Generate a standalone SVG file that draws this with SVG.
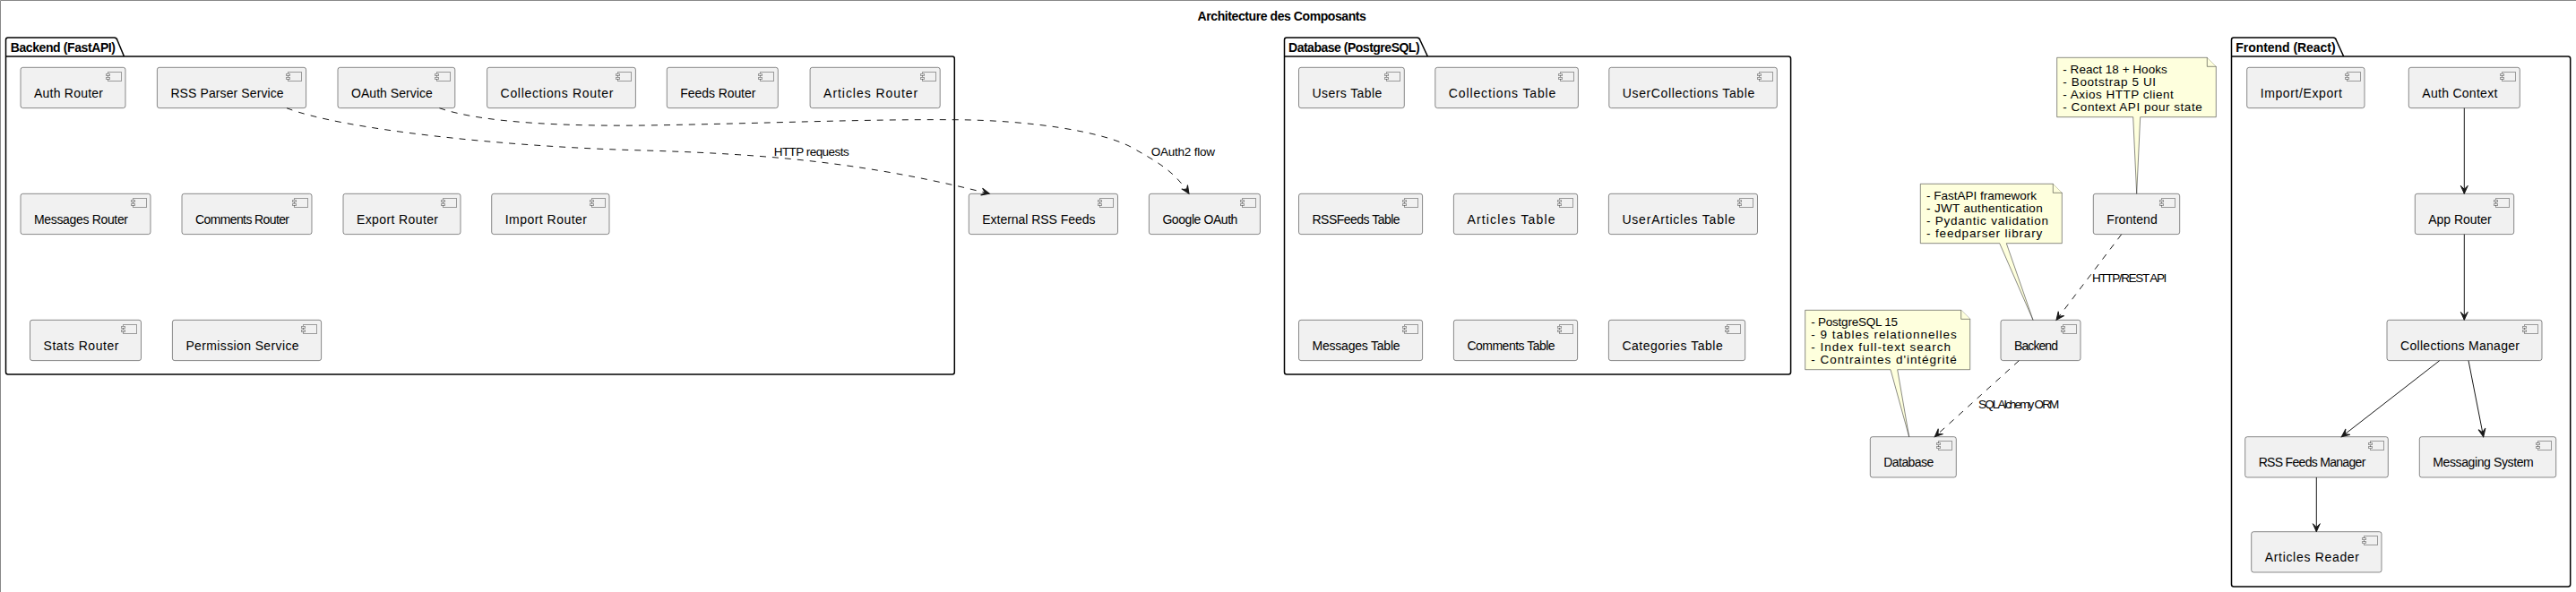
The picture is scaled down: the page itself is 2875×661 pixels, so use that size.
<svg xmlns="http://www.w3.org/2000/svg" width="2875" height="661" viewBox="0 0 2875 661">
<style>
text{font-family:"Liberation Sans",Arial,sans-serif;fill:#000}
.t{font-size:14px}
.b{font-size:14px;font-weight:bold}
.l{font-size:13.5px}
.c{fill:#F1F1F1;stroke:#181818;stroke-width:.5}
.i{fill:#F1F1F1;stroke:#181818;stroke-width:.5;stroke-opacity:.8;shape-rendering:crispEdges}
.p{fill:none;stroke:#000;stroke-width:1.5}
.n{fill:#FEFFDD;stroke:#181818;stroke-width:.5}
.s{fill:none;stroke:#181818;stroke-width:1;marker-end:url(#arr)}
.d{stroke-dasharray:7,7}
</style>
<defs>
<marker id="arr" markerUnits="userSpaceOnUse" viewBox="0 -5 10 10" refX="9" refY="0" markerWidth="10" markerHeight="10" orient="auto" overflow="visible"><path d="M0,-4 L9,0 L0,4 L4,0 Z" fill="#181818" stroke="#181818" stroke-width="1"/></marker>
<g id="ico"><rect class="i" x="0" y="0" width="15" height="10"/><rect class="i" x="-2" y="2" width="4" height="2"/><rect class="i" x="-2" y="6" width="4" height="2"/></g>
</defs>
<rect width="2875" height="661" fill="#fff"/>
<path d="M.5,661 V.5 H2875" fill="none" stroke="#888" stroke-width="1"/>
<text class="b" x="1336.6" y="23.3" textLength="188.3">Architecture des Composants</text>

<g id="pkg-backend"><path class="p" d="M9,42 H127.5 A3.75,3.75 0 0 1 131,45 L138.5,63 H1062.8 A2.5,2.5 0 0 1 1065.3,65.5 V415.5 A2.5,2.5 0 0 1 1062.8,418 H9 A2.5,2.5 0 0 1 6.5,415.5 V44.5 A2.5,2.5 0 0 1 9,42 Z M6.5,63 H138.5"/><text class="b" x="11.7" y="58" textLength="117.3">Backend (FastAPI)</text></g>
<g id="pkg-database"><path class="p" d="M1436,42 H1581.5 A3.75,3.75 0 0 1 1585,45 L1593.4,63 H1996.1 A2.5,2.5 0 0 1 1998.6,65.5 V415.5 A2.5,2.5 0 0 1 1996.1,418 H1436 A2.5,2.5 0 0 1 1433.5,415.5 V44.5 A2.5,2.5 0 0 1 1436,42 Z M1433.5,63 H1593.4"/><text class="b" x="1438" y="58" textLength="146.6">Database (PostgreSQL)</text></g>
<g id="pkg-frontend"><path class="p" d="M2493,42 H2604 A3.75,3.75 0 0 1 2607.5,45 L2615.7,63 H2866.2 A2.5,2.5 0 0 1 2868.7,65.5 V652.5 A2.5,2.5 0 0 1 2866.2,655 H2493 A2.5,2.5 0 0 1 2490.5,652.5 V44.5 A2.5,2.5 0 0 1 2493,42 Z M2490.5,63 H2615.7"/><text class="b" x="2495.3" y="58" textLength="111.3">Frontend (React)</text></g>

<g id="auth-router"><rect class="c" x="23" y="75.3" width="117" height="45.3" rx="2.5"/><use href="#ico" x="120" y="80.3"/><text class="t" x="38" y="109" textLength="77">Auth Router</text></g>
<g id="rss-parser-service"><rect class="c" x="175.4" y="75.3" width="166.2" height="45.3" rx="2.5"/><use href="#ico" x="321.6" y="80.3"/><text class="t" x="190.4" y="109" textLength="126.2">RSS Parser Service</text></g>
<g id="oauth-service"><rect class="c" x="377" y="75.3" width="130.8" height="45.3" rx="2.5"/><use href="#ico" x="487.8" y="80.3"/><text class="t" x="392" y="109" textLength="90.8">OAuth Service</text></g>
<g id="collections-router"><rect class="c" x="543.6" y="75.3" width="165.8" height="45.3" rx="2.5"/><use href="#ico" x="689.4" y="80.3"/><text class="t" x="558.6" y="109" textLength="125.8">Collections Router</text></g>
<g id="feeds-router"><rect class="c" x="744.3" y="75.3" width="124" height="45.3" rx="2.5"/><use href="#ico" x="848.3" y="80.3"/><text class="t" x="759.3" y="109" textLength="84">Feeds Router</text></g>
<g id="articles-router"><rect class="c" x="904.1" y="75.3" width="145.1" height="45.3" rx="2.5"/><use href="#ico" x="1029.2" y="80.3"/><text class="t" x="919.1" y="109" textLength="105.1">Articles Router</text></g>
<g id="messages-router"><rect class="c" x="23" y="216.3" width="145" height="45.3" rx="2.5"/><use href="#ico" x="148" y="221.3"/><text class="t" x="38" y="250" textLength="105">Messages Router</text></g>
<g id="comments-router"><rect class="c" x="203" y="216.3" width="145" height="45.3" rx="2.5"/><use href="#ico" x="328" y="221.3"/><text class="t" x="218" y="250" textLength="105">Comments Router</text></g>
<g id="export-router"><rect class="c" x="383" y="216.3" width="131" height="45.3" rx="2.5"/><use href="#ico" x="494" y="221.3"/><text class="t" x="398" y="250" textLength="91">Export Router</text></g>
<g id="import-router"><rect class="c" x="548.7" y="216.3" width="131.3" height="45.3" rx="2.5"/><use href="#ico" x="660" y="221.3"/><text class="t" x="563.7" y="250" textLength="91.3">Import Router</text></g>
<g id="stats-router"><rect class="c" x="33.5" y="357.3" width="124" height="45.3" rx="2.5"/><use href="#ico" x="137.5" y="362.3"/><text class="t" x="48.5" y="391" textLength="84">Stats Router</text></g>
<g id="permission-service"><rect class="c" x="192.4" y="357.3" width="166.2" height="45.3" rx="2.5"/><use href="#ico" x="338.6" y="362.3"/><text class="t" x="207.4" y="391" textLength="126.2">Permission Service</text></g>

<g id="external-rss-feeds"><rect class="c" x="1081.3" y="216.3" width="166.2" height="45.3" rx="2.5"/><use href="#ico" x="1227.5" y="221.3"/><text class="t" x="1096.3" y="250" textLength="126.2">External RSS Feeds</text></g>
<g id="google-oauth"><rect class="c" x="1282.4" y="216.3" width="124" height="45.3" rx="2.5"/><use href="#ico" x="1386.4" y="221.3"/><text class="t" x="1297.4" y="250" textLength="84">Google OAuth</text></g>

<g id="users-table"><rect class="c" x="1449.5" y="75.3" width="117.8" height="45.3" rx="2.5"/><use href="#ico" x="1547.3" y="80.3"/><text class="t" x="1464.5" y="109" textLength="77.8">Users Table</text></g>
<g id="collections-table"><rect class="c" x="1601.8" y="75.3" width="159.6" height="45.3" rx="2.5"/><use href="#ico" x="1741.4" y="80.3"/><text class="t" x="1616.8" y="109" textLength="119.6">Collections Table</text></g>
<g id="usercollections-table"><rect class="c" x="1795.8" y="75.3" width="187.5" height="45.3" rx="2.5"/><use href="#ico" x="1963.3" y="80.3"/><text class="t" x="1810.8" y="109" textLength="147.5">UserCollections Table</text></g>
<g id="rssfeeds-table"><rect class="c" x="1449.5" y="216.3" width="138.1" height="45.3" rx="2.5"/><use href="#ico" x="1567.6" y="221.3"/><text class="t" x="1464.5" y="250" textLength="98.1">RSSFeeds Table</text></g>
<g id="articles-table"><rect class="c" x="1622.4" y="216.3" width="138.2" height="45.3" rx="2.5"/><use href="#ico" x="1740.6" y="221.3"/><text class="t" x="1637.4" y="250" textLength="98.2">Articles Table</text></g>
<g id="userarticles-table"><rect class="c" x="1795.4" y="216.3" width="166.1" height="45.3" rx="2.5"/><use href="#ico" x="1941.5" y="221.3"/><text class="t" x="1810.4" y="250" textLength="126.1">UserArticles Table</text></g>
<g id="messages-table"><rect class="c" x="1449.5" y="357.3" width="138.1" height="45.3" rx="2.5"/><use href="#ico" x="1567.6" y="362.3"/><text class="t" x="1464.5" y="391" textLength="98.1">Messages Table</text></g>
<g id="comments-table"><rect class="c" x="1622.4" y="357.3" width="138.2" height="45.3" rx="2.5"/><use href="#ico" x="1740.6" y="362.3"/><text class="t" x="1637.4" y="391" textLength="98.2">Comments Table</text></g>
<g id="categories-table"><rect class="c" x="1795.4" y="357.3" width="152.3" height="45.3" rx="2.5"/><use href="#ico" x="1927.7" y="362.3"/><text class="t" x="1810.4" y="391" textLength="112.3">Categories Table</text></g>

<g id="import-export"><rect class="c" x="2507.7" y="75.3" width="131.3" height="45.3" rx="2.5"/><use href="#ico" x="2619" y="80.3"/><text class="t" x="2522.7" y="109" textLength="91.3">Import/Export</text></g>
<g id="auth-context"><rect class="c" x="2688.3" y="75.3" width="124" height="45.3" rx="2.5"/><use href="#ico" x="2792.3" y="80.3"/><text class="t" x="2703.3" y="109" textLength="84">Auth Context</text></g>
<g id="app-router"><rect class="c" x="2695.3" y="216.3" width="110.4" height="45.3" rx="2.5"/><use href="#ico" x="2785.7" y="221.3"/><text class="t" x="2710.3" y="250" textLength="70.4">App Router</text></g>
<g id="collections-manager"><rect class="c" x="2664" y="357.3" width="173" height="45.3" rx="2.5"/><use href="#ico" x="2817" y="362.3"/><text class="t" x="2679" y="391" textLength="133">Collections Manager</text></g>
<g id="rss-feeds-manager"><rect class="c" x="2505.7" y="487.7" width="159.6" height="45.3" rx="2.5"/><use href="#ico" x="2645.3" y="492.7"/><text class="t" x="2520.7" y="521.4" textLength="119.6">RSS Feeds Manager</text></g>
<g id="messaging-system"><rect class="c" x="2700.3" y="487.7" width="152.4" height="45.3" rx="2.5"/><use href="#ico" x="2832.7" y="492.7"/><text class="t" x="2715.3" y="521.4" textLength="112.4">Messaging System</text></g>
<g id="articles-reader"><rect class="c" x="2512.7" y="593.7" width="145.3" height="45.3" rx="2.5"/><use href="#ico" x="2638" y="598.7"/><text class="t" x="2527.7" y="627.4" textLength="105.3">Articles Reader</text></g>

<g id="frontend"><rect class="c" x="2336.3" y="216.3" width="96.4" height="45.3" rx="2.5"/><use href="#ico" x="2412.7" y="221.3"/><text class="t" x="2351.3" y="250" textLength="56.4">Frontend</text></g>
<g id="backend"><rect class="c" x="2233" y="357.3" width="89" height="45.3" rx="2.5"/><use href="#ico" x="2302" y="362.3"/><text class="t" x="2248" y="391" textLength="49">Backend</text></g>
<g id="database"><rect class="c" x="2087.3" y="487.7" width="96" height="45.3" rx="2.5"/><use href="#ico" x="2163.3" y="492.7"/><text class="t" x="2102.3" y="521.4" textLength="56">Database</text></g>

<g id="note-frontend"><path class="n" d="M2295.7,64.3 H2463.3 L2473.3,74.3 V130.7 H2388.7 L2384.7,216.3 L2380.7,130.7 H2295.7 Z"/><path class="n" d="M2463.3,64.3 V74.3 H2473.3"/>
<text class="l" x="2302.3" y="82.3" textLength="116.4">- React 18 + Hooks</text><text class="l" x="2302.3" y="96.3" textLength="103.7">- Bootstrap 5 UI</text><text class="l" x="2302.3" y="110.3" textLength="123.4">- Axios HTTP client</text><text class="l" x="2302.3" y="124.3" textLength="155.4">- Context API pour state</text></g>
<g id="note-backend"><path class="n" d="M2143.3,205.3 H2291.3 L2301.3,215.3 V271.7 H2239.3 L2269,357.3 L2231.7,271.7 H2143.3 Z"/><path class="n" d="M2291.3,205.3 V215.3 H2301.3"/>
<text class="l" x="2150" y="223.3" textLength="123">- FastAPI framework</text><text class="l" x="2150" y="237.3" textLength="129.7">- JWT authentication</text><text class="l" x="2150" y="251.3" textLength="136">- Pydantic validation</text><text class="l" x="2150" y="265.3" textLength="129.3">- feedparser library</text></g>
<g id="note-database"><path class="n" d="M2014.7,346.3 H2188.7 L2198.7,356.3 V412.7 H2117.7 L2130.7,487.7 L2110,412.7 H2014.7 Z"/><path class="n" d="M2188.7,346.3 V356.3 H2198.7"/>
<text class="l" x="2021.3" y="364" textLength="96.7">- PostgreSQL 15</text><text class="l" x="2021.3" y="378" textLength="162.4">- 9 tables relationnelles</text><text class="l" x="2021.3" y="392" textLength="155.7">- Index full-text search</text><text class="l" x="2021.3" y="406" textLength="162.4">- Contraintes d'intégrité</text></g>

<g id="connectors">
<path class="s d" d="M320,120.7 C380,144 560,164 720,168 C850,172 960,180 1104.3,216.3"/>
<path class="s d" d="M490.4,120.7 C540,138 640,141 720,140 C850,138 960,133 1064,133.7 C1150,134 1230,147 1262,164 C1290,180 1310,190 1327,216.3"/>
<path class="s d" d="M2367.7,261.7 L2295,357.3"/>
<path class="s d" d="M2253.3,402.7 L2159.3,487.7"/>
<path class="s" d="M2750.3,120.7 V216.3"/>
<path class="s" d="M2750.3,261.7 V357.3"/>
<path class="s" d="M2722.7,402.7 L2613.3,487.7"/>
<path class="s" d="M2755,402.7 L2771.7,487.7"/>
<path class="s" d="M2585.3,533 V593.7"/>
<text class="l" x="863.7" y="174" textLength="84">HTTP requests</text>
<text class="l" x="1284.7" y="174" textLength="71.3">OAuth2 flow</text>
<text class="l" x="2335" y="315" textLength="83.3">HTTP/REST API</text>
<text class="l" x="2208" y="456" textLength="90.3">SQLAlchemy ORM</text>
</g>
</svg>
